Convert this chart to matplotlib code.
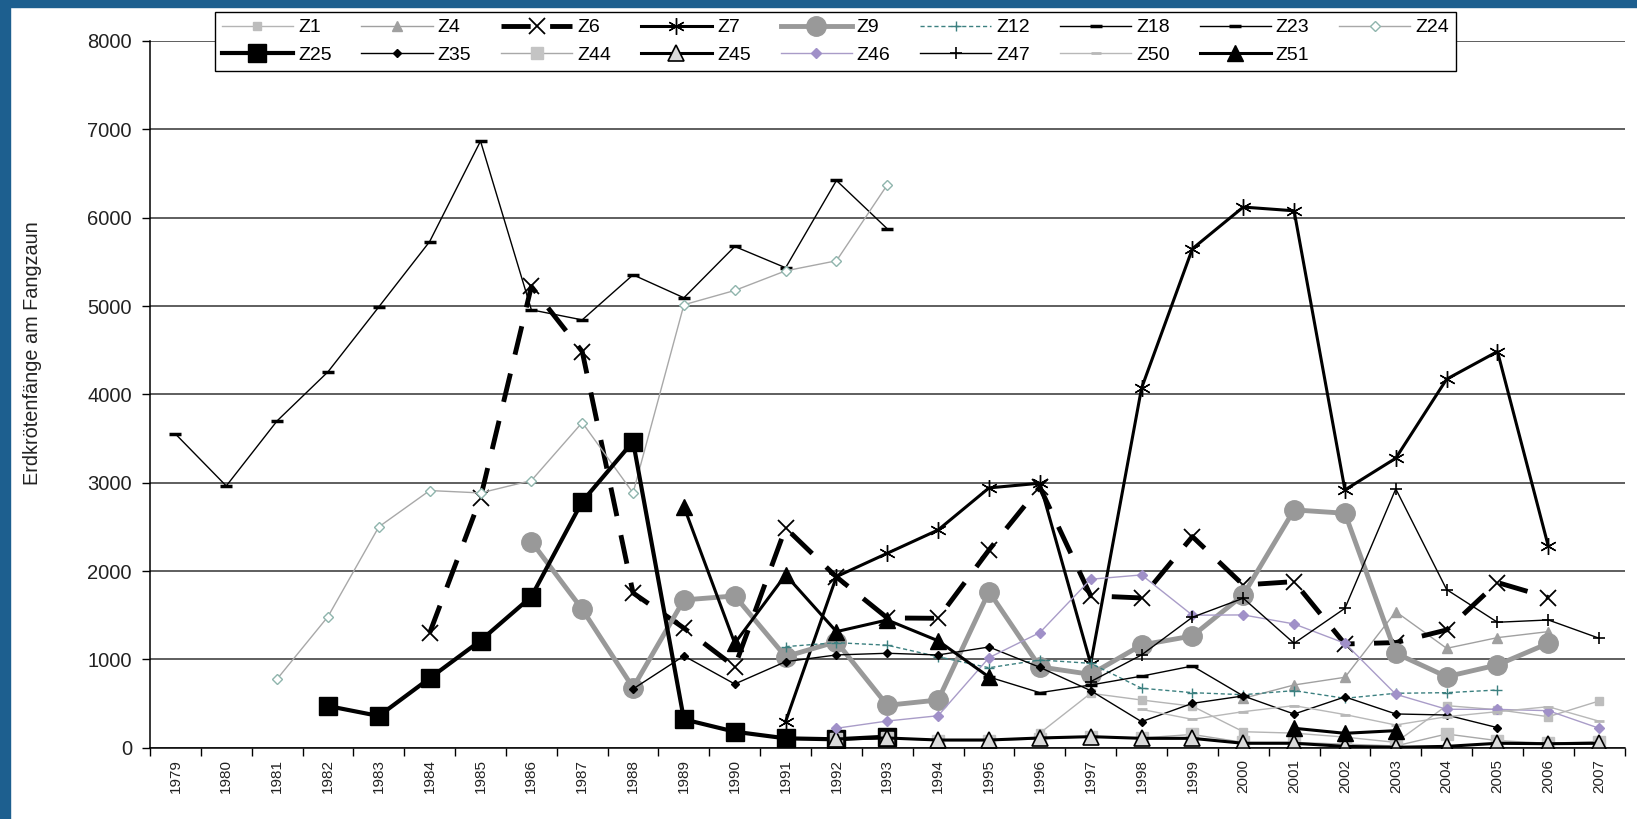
"""Erdkröten catches at the drift fences, 1979-2007, one line per fence."""

import matplotlib
import numpy as np

matplotlib.use("Agg")  # headless
import matplotlib.pyplot as plt  # noqa: E402
from matplotlib.patches import Rectangle  # noqa: E402

plt.rcParams["font.family"] = ["Liberation Sans", "DejaVu Sans"]

YEARS = list(range(1979, 2008))
nan = np.nan

# catches per fence; the first value belongs to the *_START year
Z1_START, Z1 = 1996, [165, 616, 540, 470, 181, 165, 120, 60, 476, 430, 351, 529]
Z4_START, Z4 = 2000, [559, 710, 797, 1540, 1125, 1246, 1314]
Z6_START, Z6 = 1984, [1299, 2828, 5221, 4485, 1752, 1354, 917, 2488, 1933, 1469, 1465, 2239,
                      2950, 1720, 1695, 2390, 1842, 1880, 1174, 1190, 1333, 1870, 1700]
Z7_START, Z7 = 1991, [295, 1937, 2201, 2465, 2941, 2994, 950, 4070, 5648, 6120, 6078, 2918,
                      3277, 4172, 4485, 2280]
Z9_START, Z9 = 1986, [2333, 1567, 680, 1673, 1718, 1031, 1200, 480, 540, 1767, 915, 830,
                      1163, 1265, 1729, 2692, 2654, 1069, 804, 937, 1182]
Z12_START, Z12 = 1991, [1144, 1189, 1160, 1030, 905, 993, 955, 673, 623, 600, 646, 559,
                        616, 623, 653]
Z18_START, Z18 = 1979, [3552, 2963, 3700, 4255, 4990, 5730, 6867, 4957, 4843, 5353, 5093,
                        5674, 5433, 6421, 5874]
Z23_START, Z23 = 1995, [800, 623, 710, 810, 925, 586]
Z24_START, Z24 = 1981, [778, 1484, 2500, 2911, 2884, 3024, 3681, 2884, 5014, 5176, 5398,
                        5512, 6372]
Z25_START, Z25 = 1982, [472, 359, 786, 1212, 1710, 2786, 3466, 321, 181, 106, 95, 125]
Z35_START, Z35 = 1988, [665, 1039, 721, 974, 1050, 1069, 1050, 1140, 910, 646, 295, 502,
                        586, 381, 575, 382, 370, 227]
Z44_START, Z44 = 1992, [95, 110, 80, 80, 100, 125, 110, 150, 60, 60, 40, 20, 155, 80, 50, 70]
Z45_START, Z45 = 1992, [100, 110, 87, 87, 110, 125, 106, 106, 50, 50, 15, 5, 15, 50, 45, 50]
Z46_START, Z46 = 1992, [220, 302, 362, 1019, 1303, 1907, 1956, 1500, 1503, 1401, 1182, 605,
                        435, 434, 419, 220]
Z47_START, Z47 = 1997, [748, 1050, 1477, 1692, 1182, 1578, 2930, 1790, 1420, 1446, 1239]
Z50_START, Z50 = 1998, [434, 321, 408, 476, 375, 257, 351, 408, 464, 300]
Z51_START, Z51 = 1989, [2729, 1182, 1956, 1314, 1446, 1210, 800, nan, nan, nan, nan, nan,
                        220, 163, 193]

SERIES = [
    ("Z1", Z1_START, Z1), ("Z4", Z4_START, Z4), ("Z6", Z6_START, Z6), ("Z7", Z7_START, Z7),
    ("Z9", Z9_START, Z9), ("Z12", Z12_START, Z12), ("Z18", Z18_START, Z18),
    ("Z23", Z23_START, Z23), ("Z24", Z24_START, Z24), ("Z25", Z25_START, Z25),
    ("Z35", Z35_START, Z35), ("Z44", Z44_START, Z44), ("Z45", Z45_START, Z45),
    ("Z46", Z46_START, Z46), ("Z47", Z47_START, Z47), ("Z50", Z50_START, Z50),
    ("Z51", Z51_START, Z51),
]

# Excel-ish line styles, one per fence
STYLE = {
    "Z1": dict(color="#b4b4b4", lw=1.0, marker="s", ms=6, mfc="#bdbdbd", mec="#bdbdbd"),
    "Z4": dict(color="#a0a0a0", lw=1.0, marker="^", ms=7, mfc="#a0a0a0", mec="#a0a0a0"),
    "Z6": dict(color="black", lw=3.5, ls=(0, (6, 4)), marker="x", ms=11, mew=1.3),
    "Z7": dict(color="black", lw=2.2, marker=(6, 2, 0), ms=12, mew=1.0),
    "Z9": dict(color="#999999", lw=3.5, marker="o", ms=14, mfc="#999999", mec="#999999"),
    "Z12": dict(color="#3c8080", lw=1.0, ls=(0, (3, 2)), marker="+", ms=7, mew=1.0),
    "Z18": dict(color="black", lw=1.0, marker="_", ms=8, mew=2.5),
    "Z23": dict(color="black", lw=1.0, marker="_", ms=8, mew=2.5),
    "Z24": dict(color="#a8a8a8", lw=1.0, marker="D", ms=5.5, mfc="white", mec="#8fb5ad"),
    "Z25": dict(color="black", lw=3.0, marker="s", ms=13),
    "Z35": dict(color="black", lw=1.0, marker="D", ms=4.5),
    "Z44": dict(color="#a8a8a8", lw=1.0, marker="s", ms=9, mfc="#c4c4c4", mec="#c4c4c4"),
    "Z45": dict(color="black", lw=2.2, marker="^", ms=12, mfc="#dadada", mec="black", mew=1.2),
    "Z46": dict(color="#a99cc8", lw=1.0, marker="D", ms=5, mfc="#a090c8", mec="#a090c8"),
    "Z47": dict(color="black", lw=1.0, marker="+", ms=8, mew=1.2),
    "Z50": dict(color="#b8b8b8", lw=1.0, marker="_", ms=7, mew=2.0),
    "Z51": dict(color="black", lw=2.2, marker="^", ms=12),
}

# legend rows as in the original (matplotlib fills the columns first)
ROW1 = ["Z1", "Z4", "Z6", "Z7", "Z9", "Z12", "Z18", "Z23", "Z24"]
ROW2 = ["Z25", "Z35", "Z44", "Z45", "Z46", "Z47", "Z50", "Z51"]


def full_row(start, values):
    row = np.full(len(YEARS), np.nan)
    i = start - YEARS[0]
    row[i:i + len(values)] = values
    return row


def main() -> None:
    W, H = 1637, 819
    fig = plt.figure(figsize=(W / 100, H / 100), dpi=100, facecolor="white")
    ax = fig.add_axes([150 / W, 71.3 / H, 1474.6 / W, 706.7 / H])

    x = np.arange(len(YEARS))
    lines = {}
    for name, start, values in SERIES:
        (ln,) = ax.plot(x, full_row(start, values), label=name, **STYLE[name])
        lines[name] = ln

    ax.set_xlim(-0.5, len(YEARS) - 0.5)
    ax.set_ylim(0, 8000)
    ax.set_yticks(range(0, 8001, 1000))
    ax.yaxis.grid(True, color="#333333", lw=1.1)
    ax.set_axisbelow(True)
    for side in ("top", "right"):
        ax.spines[side].set_visible(False)
    for side in ("left", "bottom"):
        ax.spines[side].set_linewidth(1.1)

    # tick marks between the categories, labels at the centres
    ax.set_xticks(np.arange(-0.5, len(YEARS), 1.0))
    ax.set_xticklabels([])
    ax.set_xticks(x, minor=True)
    ax.set_xticklabels([str(y) for y in YEARS], minor=True, rotation=90)
    ax.tick_params(axis="x", which="major", direction="out", length=6, width=1)
    ax.tick_params(axis="x", which="minor", length=0, pad=8, labelsize=11, labelcolor="#222222")
    ax.tick_params(axis="y", direction="out", length=6, width=1, pad=7,
                   labelsize=14.5, labelcolor="#222222")

    ax.set_ylabel("Erdkrötenfänge am Fangzaun", fontsize=14.3, color="#222222")
    ax.yaxis.set_label_coords(-0.073, 0.5585)

    order = []
    for i, name in enumerate(ROW1):
        order.append(name)
        if i < len(ROW2):
            order.append(ROW2[i])
    leg = ax.legend(
        [lines[n] for n in order], order,
        ncol=9, loc="upper left",
        bbox_to_anchor=(215 / W, 1 - 12 / H), bbox_transform=fig.transFigure,
        fontsize=14, handlelength=3.66, handletextpad=0.26, columnspacing=1.53,
        borderaxespad=0, borderpad=0.35, labelspacing=0.5,
        frameon=True, fancybox=False, edgecolor="black", framealpha=1,
    )
    leg.get_frame().set_linewidth(1.0)

    # blue slide frame along the top and left edge
    blue = "#1d5f8f"
    fig.patches.append(Rectangle((0, 1 - 7 / H), 1, 7 / H, transform=fig.transFigure,
                                 color=blue, zorder=-1))
    fig.patches.append(Rectangle((0, 0), 10 / W, 1, transform=fig.transFigure,
                                 color=blue, zorder=-1))

    fig.savefig("out.png", dpi=100, facecolor=fig.get_facecolor())
    plt.close(fig)


if __name__ == "__main__":
    main()
